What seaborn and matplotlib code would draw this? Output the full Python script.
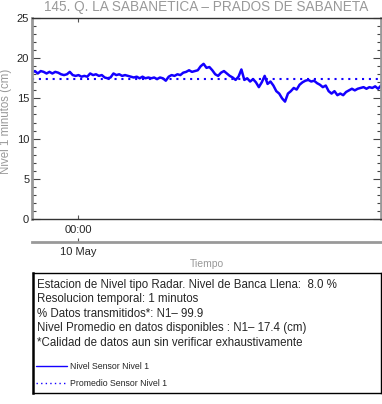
import pandas as pd
import matplotlib
matplotlib.use('Agg')
import matplotlib.pyplot as plt
import matplotlib.dates as mdates
from matplotlib.ticker import MultipleLocator
import seaborn as sns

# serie, una muestra cada 12 minutos
start = '2023-05-09 20:50'
nivel = [18.2, 18.4, 18.1, 18.4, 18.3, 18.1, 18.3, 18.1, 18.3, 18.2,
         18.0, 17.9, 18.0, 18.3, 17.9, 17.8, 17.9, 17.7, 17.8, 17.7,
         18.1, 17.9, 18.0, 17.8, 17.9, 17.6, 17.5, 17.6, 18.1, 17.9,
         18.0, 17.8, 17.9, 17.8, 17.7, 17.6, 17.7, 17.5, 17.7, 17.5,
         17.6, 17.5, 17.6, 17.4, 17.6, 17.5, 17.2, 17.7, 17.9, 17.8,
         18.0, 17.9, 18.2, 18.3, 18.5, 18.3, 18.4, 18.5, 19.0, 19.3,
         18.8, 18.9, 18.5, 18.0, 17.8, 18.2, 18.4, 18.1, 17.8, 17.6,
         17.3, 17.7, 18.6, 17.3, 17.5, 17.1, 17.4, 17.0, 16.4, 17.0,
         17.8, 16.8, 17.1, 16.6, 15.9, 15.6, 15.0, 14.6, 15.6, 15.9,
         16.3, 16.1, 16.7, 17.0, 17.2, 17.3, 17.1, 17.2, 16.9, 16.7,
         16.4, 16.6, 15.9, 15.6, 15.9, 15.4, 15.6, 15.4, 15.8, 16.0,
         16.2, 16.0, 16.2, 16.3, 16.4, 16.2, 16.4, 16.3, 16.5, 16.2,
         16.6]
promedio = 17.4

info_lines = [
    'Estacion de Nivel tipo Radar. Nivel de Banca Llena:  8.0 %',
    'Resolucion temporal: 1 minutos',
    '% Datos transmitidos*: N1\u2013 99.9',
    'Nivel Promedio en datos disponibles : N1\u2013 17.4 (cm)',
    '*Calidad de datos aun sin verificar exhaustivamente',
]

times = pd.date_range(start, periods=len(nivel), freq='12min')
df = pd.DataFrame({'tiempo': times, 'nivel': nivel})
df['promedio'] = promedio

sns.set_style('ticks')
plt.rcParams['font.family'] = ['Liberation Sans', 'DejaVu Sans']

W, H = 382, 404
fig = plt.figure(figsize=(W / 100, H / 100), dpi=100)
ax = fig.add_axes([32 / W, 1 - 219 / H, 349 / W, 201 / H])

azul = '#1400ff'
sns.lineplot(data=df, x='tiempo', y='nivel', ax=ax, color=azul, lw=1.8,
             label='Nivel Sensor Nivel 1', legend=False)
sns.lineplot(data=df, x='tiempo', y='promedio', ax=ax, color=azul, lw=1.5,
             linestyle=(0, (1, 2.3)), label='Promedio Sensor Nivel 1', legend=False)

ax.set_xlim(times[0], times[-1])
ax.set_ylim(0, 25)
ax.yaxis.set_major_locator(MultipleLocator(5))
ax.yaxis.set_minor_locator(MultipleLocator(1))
ax.xaxis.set_major_locator(mdates.DayLocator())
ax.xaxis.set_major_formatter(mdates.DateFormatter('%H:%M'))

ax.tick_params(axis='y', which='both', direction='in', left=True, right=True,
               labelsize=8, pad=2, color='#444444')
ax.tick_params(axis='y', which='major', length=5.5, width=0.8)
ax.tick_params(axis='y', which='minor', length=3, width=0.8)
ax.tick_params(axis='x', direction='in', top=True, length=3, width=0.8,
               labelsize=8, pad=4, color='#555555')

for s in ['left', 'right']:
    ax.spines[s].set_color('#999999')
    ax.spines[s].set_linewidth(2)
for s in ['top', 'bottom']:
    ax.spines[s].set_color('#333333')
    ax.spines[s].set_linewidth(1)
    ax.spines[s].set_visible(True)

ax.set_xlabel('')
ax.set_ylabel('Nivel 1 minutos (cm)', color='#999999', fontsize=8.3)
ax.yaxis.set_label_coords(-19.5 / 349, (219 - 121) / 201)

sec = ax.secondary_xaxis(-23 / 201)
sec.xaxis.set_major_locator(mdates.DayLocator())
sec.xaxis.set_major_formatter(mdates.DateFormatter('%d %b'))
sec.tick_params(direction='in', length=3, width=0.8, labelsize=8, pad=3.5,
                color='#555555')
sec.spines['bottom'].set_color('#999999')
sec.spines['bottom'].set_linewidth(2)

fig.text(206.5 / W, 1 - 10.8 / H, '145. Q. LA SABANETICA \u2013 PRADOS DE SABANETA',
         ha='center', va='baseline', fontsize=9.8, color='#999999')
fig.text(206.5 / W, 1 - 264 / H, 'Tiempo', ha='center', va='center',
         fontsize=7.5, color='#999999')

# cuadro de informacion
box = fig.add_axes([32.5 / W, 1 - 393 / H, 348 / W, 120 / H])
box.set_xticks([])
box.set_yticks([])
for s in box.spines.values():
    s.set_color('black')
    s.set_linewidth(1)
box.spines['left'].set_linewidth(1.8)

for i, line in enumerate(info_lines):
    box.text(4.5 / 348, 1 - (285 - 273 + i * 14.4) / 120, line,
             transform=box.transAxes, ha='left', va='center', fontsize=8.3)

handles, labels = ax.get_legend_handles_labels()
leg = box.legend(handles, labels, loc='upper left',
                 bbox_to_anchor=(1.5 / 348, 1 - (360 - 273) / 120),
                 frameon=False, fontsize=6.3, handlelength=3.6,
                 handletextpad=0.35, labelspacing=0.9, borderaxespad=0,
                 borderpad=0.2)
for h in leg.get_lines():
    h.set_linewidth(1.0)

fig.savefig('out.png', dpi=100)
